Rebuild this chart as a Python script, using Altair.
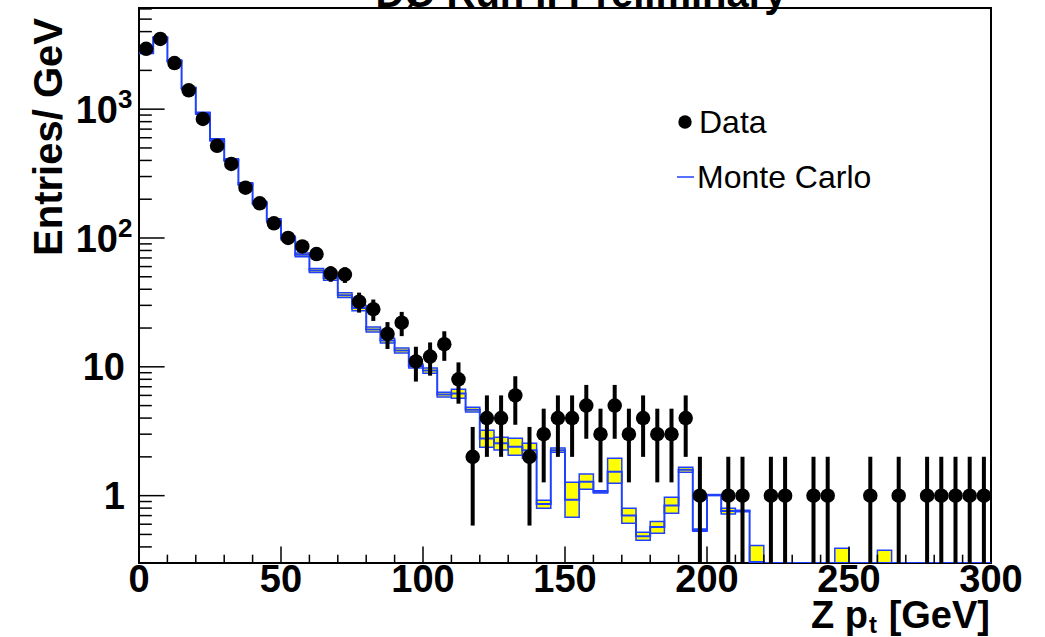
import altair as alt
import pandas as pd
import numpy as np

# ---------------- data ----------------
bin_lo = list(range(0, 300, 5))          # 5 GeV bins, 0..300

data_counts = [2940, 3510, 2280, 1400, 840, 520, 376, 246, 186, 130,
               100, 86, 75, 53, 52, 32, 28, 18, 22, 11,
               12, 15, 8, 2, 4, 4, 6, 2, 3, 4,
               4, 5, 3, 5, 3, 4, 3, 3, 4, 1,
               0, 1, 1, 0, 1, 1, 0, 1, 1, 0,
               0, 1, 0, 1, 0, 1, 1, 1, 1, 1]

mc_center = [2740, 3580, 2370, 1456, 931, 577, 403, 262, 187, 137,
             100, 74, 56, 49, 36, 28.6, 19.5, 16.0, 13.4, 10.15,
             9.35, 6.1, 6.2, 4.65, 2.78, 2.55, 2.4, 2.25, 0.86, 2.25,
             0.93, 1.28, 1.07, 1.53, 0.70, 0.485, 0.57, 0.84, 1.59, 0.54,
             1.01, 0.76, 0.76, 0.305, 0, 0, 0, 0, 0, 0.2,
             0, 0, 0.2, 0, 0, 0, 0, 0, 0, 0]

mc_low = [2700, 3530, 2330, 1430, 915, 565, 394, 256, 182, 133,
          97, 71.5, 54, 47, 34.5, 27.3, 18.6, 15.3, 12.8, 9.8,
          8.9, 5.82, 5.7, 4.45, 2.38, 2.26, 2.06, 1.95, 0.80, 2.17,
          0.68, 1.12, 1.05, 1.25, 0.61, 0.45, 0.51, 0.73, 1.52, 0.53,
          1.0, 0.72, 0.75, 0.2, 0, 0, 0, 0, 0, 0.1,
          0, 0, 0.1, 0, 0, 0, 0, 0, 0, 0]

mc_high = [2780, 3630, 2410, 1480, 947, 589, 412, 268, 192, 141,
           103, 76.5, 58, 51, 37.5, 29.9, 20.4, 16.7, 14.0, 10.5,
           9.8, 6.36, 6.7, 4.86, 3.22, 2.84, 2.79, 2.55, 0.92, 2.34,
           1.27, 1.47, 1.09, 1.95, 0.80, 0.52, 0.63, 0.97, 1.66, 0.55,
           1.02, 0.80, 0.77, 0.41, 0, 0, 0, 0, 0, 0.39,
           0, 0, 0.376, 0, 0, 0, 0, 0, 0, 0]

x_tick_values = [0, 50, 100, 150, 200, 250, 300]
x_tick_text = ["0", "50", "100", "150", "200", "250", "300"]
y_plain_values = [1, 10]
y_plain_text = ["1", "10"]
y_pow_values = [100, 1000]
y_pow_base = ["10", "10"]
y_pow_exp = ["2", "3"]

# ---------------- layout ----------------
Y_MIN, Y_MAX = 0.3, 6100
W, H = 852, 555
FONT = "Liberation Sans"
BLUE = "#2040ff"

bins = pd.DataFrame({
    "lo": bin_lo,
    "hi": [b + 5 for b in bin_lo],
    "center": [b + 2.5 for b in bin_lo],
    "data": data_counts,
    "mc": mc_center,
    "mc_lo": mc_low,
    "mc_hi": mc_high,
})

pts = bins[bins["data"] > 0].copy()
pts["err_lo"] = np.maximum(pts["data"] - np.sqrt(pts["data"]), 0.1)
pts["err_hi"] = pts["data"] + np.sqrt(pts["data"])

band = bins[bins["mc_hi"] > 0].copy()
band["mc_lo_c"] = np.maximum(band["mc_lo"], 0.1)

step = pd.DataFrame({
    "x": bin_lo + [300],
    "y": [max(v, Y_MIN) for v in mc_center] + [max(mc_center[-1], Y_MIN)],
})

# tick positions
y_major = [1, 10, 100, 1000]
y_minor = [0.3, 0.4, 0.5, 0.6, 0.7, 0.8, 0.9] + \
          [m * 10 ** k for k in range(0, 3) for m in range(2, 10)] + \
          [2000, 3000, 4000, 5000, 6000]
x_major = [50, 100, 150, 200, 250]
x_minor = [v for v in range(10, 300, 10) if v % 50 != 0]

xscale = alt.Scale(domain=[0, 300], nice=False, zero=False)
yscale = alt.Scale(type="log", domain=[Y_MIN, Y_MAX], nice=False)

band_layer = alt.Chart(band).mark_rect(
    fill="#ffff00", stroke=BLUE, strokeWidth=1.5, clip=True
).encode(
    x=alt.X("lo:Q", scale=xscale, axis=None),
    x2="hi:Q",
    y=alt.Y("mc_lo_c:Q", scale=yscale, axis=None),
    y2="mc_hi:Q",
)

step_layer = alt.Chart(step).mark_line(
    interpolate="step-after", color=BLUE, strokeWidth=2, clip=True
).encode(
    x=alt.X("x:Q", scale=xscale, axis=None),
    y=alt.Y("y:Q", scale=yscale, axis=None),
)

ytick_layer = (
    alt.Chart(pd.DataFrame({"v": y_major})).mark_rule(color="black", strokeWidth=1.5).encode(
        y=alt.Y("v:Q", scale=yscale, axis=None), x=alt.value(0), x2=alt.value(25.6))
    + alt.Chart(pd.DataFrame({"v": y_minor})).mark_rule(color="black", strokeWidth=1.5).encode(
        y=alt.Y("v:Q", scale=yscale, axis=None), x=alt.value(0), x2=alt.value(12.8))
)

xtick_layer = (
    alt.Chart(pd.DataFrame({"v": x_major})).mark_rule(color="black", strokeWidth=1.5).encode(
        x=alt.X("v:Q", scale=xscale, axis=None), y=alt.value(H), y2=alt.value(H - 16.6))
    + alt.Chart(pd.DataFrame({"v": x_minor})).mark_rule(color="black", strokeWidth=1.5).encode(
        x=alt.X("v:Q", scale=xscale, axis=None), y=alt.value(H), y2=alt.value(H - 8.3))
)

xlab = pd.DataFrame({"v": x_tick_values, "t": x_tick_text})
ylab_plain = pd.DataFrame({"v": y_plain_values, "t": y_plain_text})
ylab_pow = pd.DataFrame({"v": y_pow_values, "t": y_pow_base, "s": y_pow_exp})

label_layer = (
    alt.Chart(xlab).mark_text(font=FONT, fontSize=38, fontWeight="bold",
                              align="center", baseline="alphabetic", color="black").encode(
        x=alt.X("v:Q", scale=xscale, axis=None), y=alt.value(H + 29), text="t:N")
    + alt.Chart(ylab_plain).mark_text(font=FONT, fontSize=38, fontWeight="bold",
                                      align="right", baseline="middle", color="black",
                                      dx=-14, dy=2).encode(
        y=alt.Y("v:Q", scale=yscale, axis=None), x=alt.value(0), text="t:N")
    + alt.Chart(ylab_pow).mark_text(font=FONT, fontSize=38, fontWeight="bold",
                                    align="right", baseline="middle", color="black",
                                    dx=-21, dy=3).encode(
        y=alt.Y("v:Q", scale=yscale, axis=None), x=alt.value(0), text="t:N")
    + alt.Chart(ylab_pow).mark_text(font=FONT, fontSize=26, fontWeight="bold",
                                    align="left", baseline="middle", color="black",
                                    dx=-21, dy=-9).encode(
        y=alt.Y("v:Q", scale=yscale, axis=None), x=alt.value(0), text="s:N")
)

err_layer = alt.Chart(pts).mark_rule(color="black", strokeWidth=4, clip=True).encode(
    x=alt.X("center:Q", scale=xscale, axis=None),
    y=alt.Y("err_lo:Q", scale=yscale, axis=None),
    y2="err_hi:Q",
)

pt_layer = alt.Chart(pts).mark_circle(color="black", size=210, opacity=1, clip=True).encode(
    x=alt.X("center:Q", scale=xscale, axis=None),
    y=alt.Y("data:Q", scale=yscale, axis=None),
)

one = pd.DataFrame({"a": [0]})

legend = (
    alt.Chart(one).mark_circle(color="black", size=180, opacity=1).encode(
        x=alt.value(546), y=alt.value(114))
    + alt.Chart(one).mark_text(text="Data", font=FONT, fontSize=32, align="left",
                               baseline="alphabetic", color="black").encode(
        x=alt.value(560), y=alt.value(125))
    + alt.Chart(one).mark_rule(color=BLUE, strokeWidth=1.5).encode(
        x=alt.value(538), x2=alt.value(555), y=alt.value(169))
    + alt.Chart(one).mark_text(text="Monte Carlo", font=FONT, fontSize=32, align="left",
                               baseline="alphabetic", color="black").encode(
        x=alt.value(558), y=alt.value(180))
)

titles = (
    alt.Chart(one).mark_text(text="DØ Run II Preliminary", font=FONT, fontSize=40,
                             fontWeight="bold", align="center", baseline="alphabetic",
                             color="black").encode(
        x=alt.value(442), y=alt.value(-1))
    + alt.Chart(one).mark_text(text="Entries/ GeV", font=FONT, fontSize=40,
                               fontWeight="bold", align="right", baseline="alphabetic",
                               angle=270, color="black").encode(
        x=alt.value(-77), y=alt.value(10))
    + alt.Chart(one).mark_text(text="[GeV]", font=FONT, fontSize=38,
                               fontWeight="bold", align="right", baseline="alphabetic",
                               color="black").encode(
        x=alt.value(851), y=alt.value(620))
    + alt.Chart(one).mark_text(text="t", font=FONT, fontSize=24,
                               fontWeight="bold", align="right", baseline="alphabetic",
                               color="black").encode(
        x=alt.value(738), y=alt.value(625))
    + alt.Chart(one).mark_text(text="Z p", font=FONT, fontSize=38,
                               fontWeight="bold", align="right", baseline="alphabetic",
                               color="black").encode(
        x=alt.value(729), y=alt.value(620))
)

chart = alt.layer(
    band_layer, step_layer, ytick_layer, xtick_layer, label_layer,
    err_layer, pt_layer, legend, titles
).properties(
    width=W, height=H,
    autosize=alt.AutoSizeParams(type="none"),
    padding={"left": 139, "top": 8, "right": 54, "bottom": 74},
    background="white",
).configure_view(
    stroke="black", strokeWidth=2, fill="white"
)

chart.save("out.html", embed_options={"renderer": "svg", "actions": False})
